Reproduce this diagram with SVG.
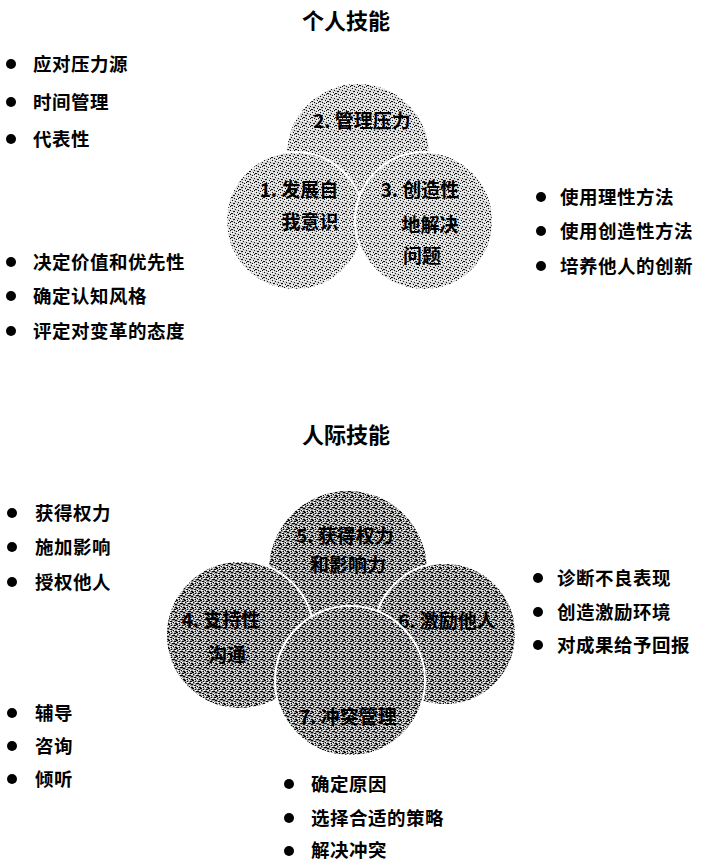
<svg xmlns="http://www.w3.org/2000/svg" width="701" height="864" viewBox="0 0 701 864">
<defs>
<pattern id="ditherA" width="8" height="8" patternUnits="userSpaceOnUse">
<rect width="8" height="8" fill="#d4d4d4"/>
<path d="M0 0h1v1H0zM3 1h1v1H3zM6 2h1v1H6zM1 3h2v1H1zM5 4h1v1H5zM7 5h1v1H7zM2 6h1v1H2zM4 7h1v1H4zM6 6h1v1H6zM0 5h1v1H0z" fill="#111"/>
<path d="M1 1h1v1H1zM4 0h2v1H4zM7 1h1v1H7zM3 3h1v1H3zM0 4h1v1H0zM6 4h1v1H6zM3 5h2v1H3zM1 7h1v1H1zM5 6h1v1H5zM7 7h1v1H7z" fill="#fff"/>
</pattern>
<pattern id="ditherB" width="8" height="8" patternUnits="userSpaceOnUse">
<rect width="8" height="8" fill="#9a9a9a"/>
<path d="M0 0h2v1H0zM3 1h1v1H3zM6 1h2v1H6zM1 2h1v1H1zM4 3h2v1H4zM0 4h1v1H0zM7 4h1v1H7zM2 5h2v1H2zM5 6h1v1H5zM0 7h1v1H0zM3 7h1v1H3zM7 7h1v1H7zM6 3h1v1H6z" fill="#000"/>
<path d="M2 0h1v1H2zM5 0h1v1H5zM0 2h1v1H0zM3 2h2v1H3zM7 2h1v1H7zM2 4h1v1H2zM5 5h1v1H5zM1 6h2v1H1zM6 6h1v1H6zM4 7h1v1H4z" fill="#fff"/>
</pattern>
</defs>
<style>
.t{font-family:"Noto Sans CJK SC","Noto Sans",sans-serif;font-weight:bold;fill:#000}
.h{font-size:22px;text-anchor:middle}
.b{font-size:18.5px;letter-spacing:0.5px}
.c{font-size:19px;text-anchor:middle}
.ca{fill:url(#ditherA);stroke:#fff;stroke-width:2}
.cb{fill:url(#ditherB);stroke:#fff;stroke-width:2}
.dot{fill:#000}
</style>
<text class="t h" x="346" y="29">个人技能</text>
<text class="t h" x="346" y="443">人际技能</text>

<g id="node-2"><circle class="ca" cx="358" cy="155" r="72"/><text class="t c" x="362" y="128">2. 管理压力</text></g>
<g id="node-1"><circle class="ca" cx="295" cy="221" r="69"/><text class="t c" x="299" y="197">1. 发展自</text><text class="t c" x="310" y="229">我意识</text></g>
<g id="node-3"><circle class="ca" cx="424" cy="221" r="69"/><text class="t c" x="420" y="197">3. 创造性</text><text class="t c" x="430" y="232">地解决</text><text class="t c" x="422" y="263">问题</text></g>

<g id="node-5"><circle class="cb" cx="348" cy="570" r="80"/><text class="t c" x="345" y="543">5. 获得权力</text><text class="t c" x="348" y="572">和影响力</text></g>
<g id="node-4"><circle class="cb" cx="240" cy="635" r="74"/><text class="t c" x="221" y="627">4. 支持性</text><text class="t c" x="227" y="662">沟通</text></g>
<g id="node-6"><circle class="cb" cx="445" cy="634" r="71"/><text class="t c" x="447" y="628">6. 激励他人</text></g>
<g id="node-7"><circle class="cb" cx="350" cy="681" r="75"/><text class="t c" x="348" y="724">7. 冲突管理</text></g>

<g id="list-top-left">
<circle class="dot" cx="11" cy="64" r="5"/><text class="t b" x="33" y="71">应对压力源</text>
<circle class="dot" cx="11" cy="102" r="5"/><text class="t b" x="33" y="109">时间管理</text>
<circle class="dot" cx="11" cy="139" r="5"/><text class="t b" x="33" y="146">代表性</text>
</g>
<g id="list-mid-left">
<circle class="dot" cx="11" cy="262" r="5"/><text class="t b" x="33" y="269">决定价值和优先性</text>
<circle class="dot" cx="11" cy="296" r="5"/><text class="t b" x="33" y="303">确定认知风格</text>
<circle class="dot" cx="11" cy="331" r="5"/><text class="t b" x="33" y="338">评定对变革的态度</text>
</g>
<g id="list-top-right">
<circle class="dot" cx="541" cy="197" r="5"/><text class="t b" x="560" y="204">使用理性方法</text>
<circle class="dot" cx="541" cy="231" r="5"/><text class="t b" x="560" y="238">使用创造性方法</text>
<circle class="dot" cx="541" cy="266" r="5"/><text class="t b" x="560" y="273">培养他人的创新</text>
</g>
<g id="list-5">
<circle class="dot" cx="12" cy="513" r="5"/><text class="t b" x="35" y="520">获得权力</text>
<circle class="dot" cx="12" cy="547" r="5"/><text class="t b" x="35" y="554">施加影响</text>
<circle class="dot" cx="12" cy="582" r="5"/><text class="t b" x="35" y="589">授权他人</text>
</g>
<g id="list-6">
<circle class="dot" cx="538" cy="578" r="5"/><text class="t b" x="557" y="585">诊断不良表现</text>
<circle class="dot" cx="538" cy="612" r="5"/><text class="t b" x="557" y="619">创造激励环境</text>
<circle class="dot" cx="538" cy="645" r="5"/><text class="t b" x="557" y="652">对成果给予回报</text>
</g>
<g id="list-4">
<circle class="dot" cx="12" cy="713" r="5"/><text class="t b" x="35" y="720">辅导</text>
<circle class="dot" cx="12" cy="746" r="5"/><text class="t b" x="35" y="753">咨询</text>
<circle class="dot" cx="12" cy="779" r="5"/><text class="t b" x="35" y="786">倾听</text>
</g>
<g id="list-7">
<circle class="dot" cx="289" cy="784" r="5"/><text class="t b" x="311" y="791">确定原因</text>
<circle class="dot" cx="289" cy="818" r="5"/><text class="t b" x="311" y="825">选择合适的策略</text>
<circle class="dot" cx="289" cy="851" r="5"/><text class="t b" x="311" y="857">解决冲突</text>
</g>
<g id="connectors"></g>
</svg>
